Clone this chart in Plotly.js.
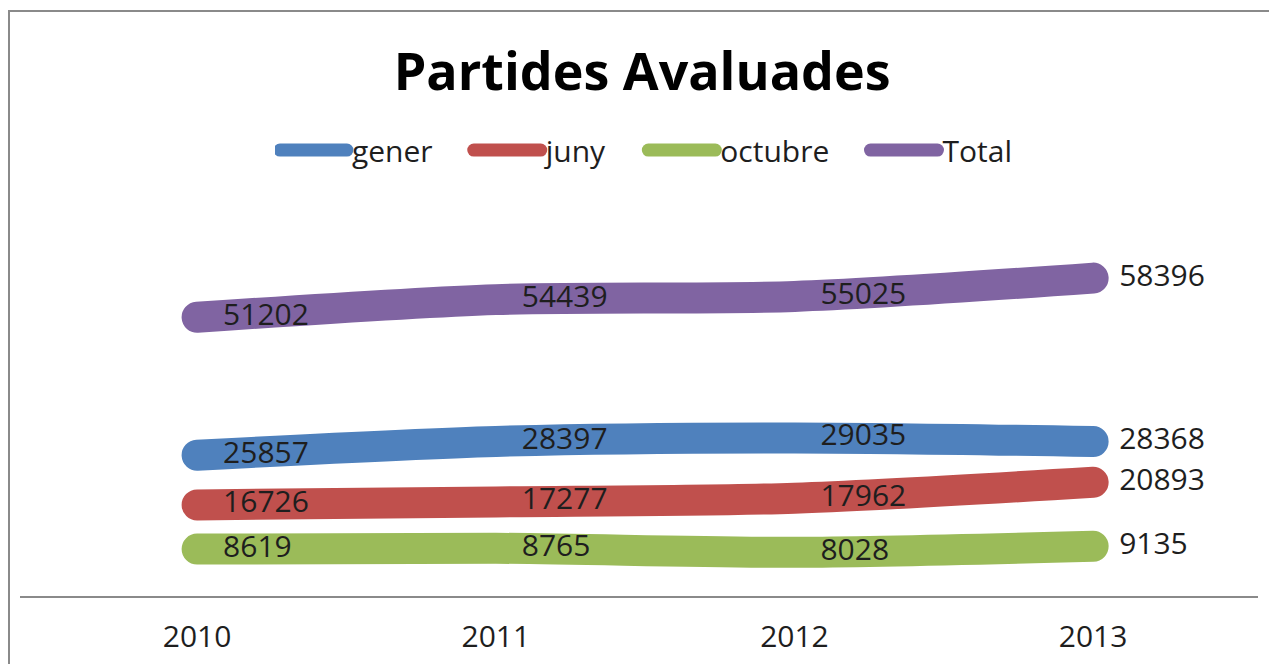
<!DOCTYPE html>
<html>
<head>
<meta charset="utf-8">
<script src="https://cdn.plot.ly/plotly-3.0.1.min.js"></script>
<style>
  html, body { margin: 0; padding: 0; background: #fff; overflow: hidden; }
  #frame { position: absolute; left: 8px; top: 10px; width: 1400px; height: 800px;
           border-left: 2px solid #8a8a8a; border-top: 2px solid #8a8a8a; box-sizing: border-box; }
  #chart { position: absolute; left: 0; top: 0; width: 1269px; height: 664px; }
  .scatterlayer .js-line { stroke-linecap: round; }
  .legend .legendlines path { stroke-width: 13px !important; stroke-linecap: round; }
  .legend .legendpoints { display: none; }
</style>
</head>
<body>
<div id="frame"></div>
<div id="chart"></div>
<script>
const years = ['2010', '2011', '2012', '2013'];
const gener = [25857, 28397, 29035, 28368];
const juny = [16726, 17277, 17962, 20893];
const octubre = [8619, 8765, 8028, 9135];
const total = [51202, 54439, 55025, 58396];

const seriesNames = ['gener', 'juny', 'octubre', 'Total'];
const seriesValues = [gener, juny, octubre, total];
const seriesColors = ['#4F81BD', '#C0504D', '#9BBB59', '#8064A2'];

const NBSP = '\u00a0\u00a0\u00a0\u00a0';

const traces = seriesNames.map((name, i) => ({
  type: 'scatter',
  mode: 'lines+text+markers',
  name: name + (i < seriesNames.length - 1 ? NBSP : ''),
  x: years,
  y: seriesValues[i],
  text: seriesValues[i].map(String),
  textposition: 'middle right',
  textfont: { family: 'Open Sans, sans-serif', size: 30, color: '#1e1e1e' },
  line: { color: seriesColors[i], width: 31, shape: 'spline', smoothing: 0.8 },
  marker: { size: 40, opacity: 0, color: seriesColors[i] },
  hoverinfo: 'x+y+name'
}));

const layout = {
  width: 1269,
  height: 664,
  margin: { l: 20, r: 11, t: 200, b: 68 },
  paper_bgcolor: 'rgba(0,0,0,0)',
  plot_bgcolor: 'rgba(0,0,0,0)',
  showlegend: true,
  title: {
    text: '<b>Partides Avaluades</b>',
    font: { family: 'Open Sans, sans-serif', size: 52, color: '#000' },
    xref: 'container', yref: 'container',
    x: 0.506, y: 0.892, xanchor: 'center', yanchor: 'middle'
  },
  legend: {
    orientation: 'h',
    x: 0.506, xanchor: 'center',
    y: 1.126, yanchor: 'middle',
    font: { family: 'Open Sans, sans-serif', size: 30, color: '#1e1e1e' },
    itemwidth: 67,
    tracegroupgap: 0,
    bgcolor: 'rgba(0,0,0,0)'
  },
  xaxis: {
    type: 'category',
    range: [-0.593, 3.552],
    showline: true, linecolor: '#8a8a8a', linewidth: 2,
    showgrid: false, zeroline: false, ticks: '',
    ticklabelstandoff: 13,
    tickfont: { family: 'Open Sans, sans-serif', size: 30, color: '#1e1e1e' },
    fixedrange: true
  },
  yaxis: {
    range: [0, 72740],
    visible: false,
    showgrid: false, zeroline: false,
    fixedrange: true
  }
};

Plotly.newPlot('chart', traces, layout, { displayModeBar: false, staticPlot: true });
</script>
</body>
</html>
